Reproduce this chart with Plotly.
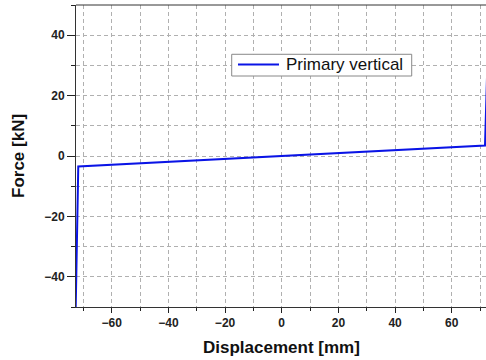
import plotly.graph_objects as go

# Data
displacement = [-72.7, -71.8, 71.75, 73.2]
force = [-50.0, -3.5, 3.5, 50.0]
series_name = "Primary vertical"
x_ticks = [-60, -40, -20, 0, 20, 40, 60]
y_ticks = [-40, -20, 0, 20, 40]
x_title = "Displacement [mm]"
y_title = "Force [kN]"

FONT = "Liberation Sans, Arial"
GRID = "#b0b0b0"
LINE_COLOR = "#0a14e6"

fig = go.Figure()
fig.add_trace(go.Scatter(
    x=displacement, y=force, mode="lines", name=series_name,
    line=dict(color=LINE_COLOR, width=2), showlegend=False,
))

fig.update_layout(
    width=486, height=360,
    margin=dict(l=76, r=0, t=5, b=53),
    plot_bgcolor="white", paper_bgcolor="white",
    font=dict(family=FONT, color="#222222"),
)
common = dict(
    ticks="outside", tickcolor="#222222",
    showline=True, linecolor="#333333", linewidth=1, mirror=False,
    tickfont=dict(size=12, family=FONT, weight="bold", color="#222222"),
    zeroline=False, automargin=False,
    showgrid=True, gridcolor=GRID, griddash="4px,3px", gridwidth=1,
)
fig.update_xaxes(
    range=[-72.6, 72.1], tickvals=x_ticks, ticklen=5,
    minor=dict(dtick=10, tick0=0, ticks="outside", ticklen=3, tickcolor="#222222",
               showgrid=True, gridcolor=GRID, griddash="4px,3px"),
    **common,
)
fig.update_yaxes(
    range=[-50, 50], tickvals=y_ticks, ticklen=8,
    minor=dict(dtick=10, tick0=0, ticks="outside", ticklen=4, tickcolor="#222222",
               showgrid=True, gridcolor=GRID, griddash="4px,3px"),
    **common,
)
# top border line
fig.add_shape(type="line", xref="paper", yref="paper", x0=0, x1=1, y0=1, y1=1,
              line=dict(color="#333333", width=1))

# legend box (drawn manually to match the reference layout)
fig.add_shape(type="rect", xref="paper", yref="paper", x0=0.3798, x1=0.8188,
              y0=0.7649, y1=0.8368, line=dict(color="#888888", width=1),
              fillcolor="white", layer="above")
fig.add_shape(type="line", xref="paper", yref="paper", x0=0.3951, x1=0.4951,
              y0=0.803, y1=0.803, line=dict(color=LINE_COLOR, width=2), layer="above")
fig.add_annotation(text=series_name, xref="paper", yref="paper", x=0.5085, y=0.803,
                   xanchor="left", yanchor="middle", showarrow=False,
                   font=dict(family=FONT, size=17, color="#111111"))

# axis titles
fig.add_annotation(text=x_title, xref="paper", yref="paper", x=0.5, y=0,
                   xanchor="center", yanchor="middle", yshift=-40, showarrow=False,
                   font=dict(family=FONT, size=17, weight="bold", color="#111111"))
fig.add_annotation(text=y_title, xref="paper", yref="paper", x=0, y=0.5,
                   xanchor="center", yanchor="middle", xshift=-58, textangle=-90,
                   showarrow=False,
                   font=dict(family=FONT, size=17, weight="bold", color="#111111"))

fig.write_html("out.html", config={"displayModeBar": False},
               post_script="document.body.style.margin='0';document.body.style.overflow='hidden';")
